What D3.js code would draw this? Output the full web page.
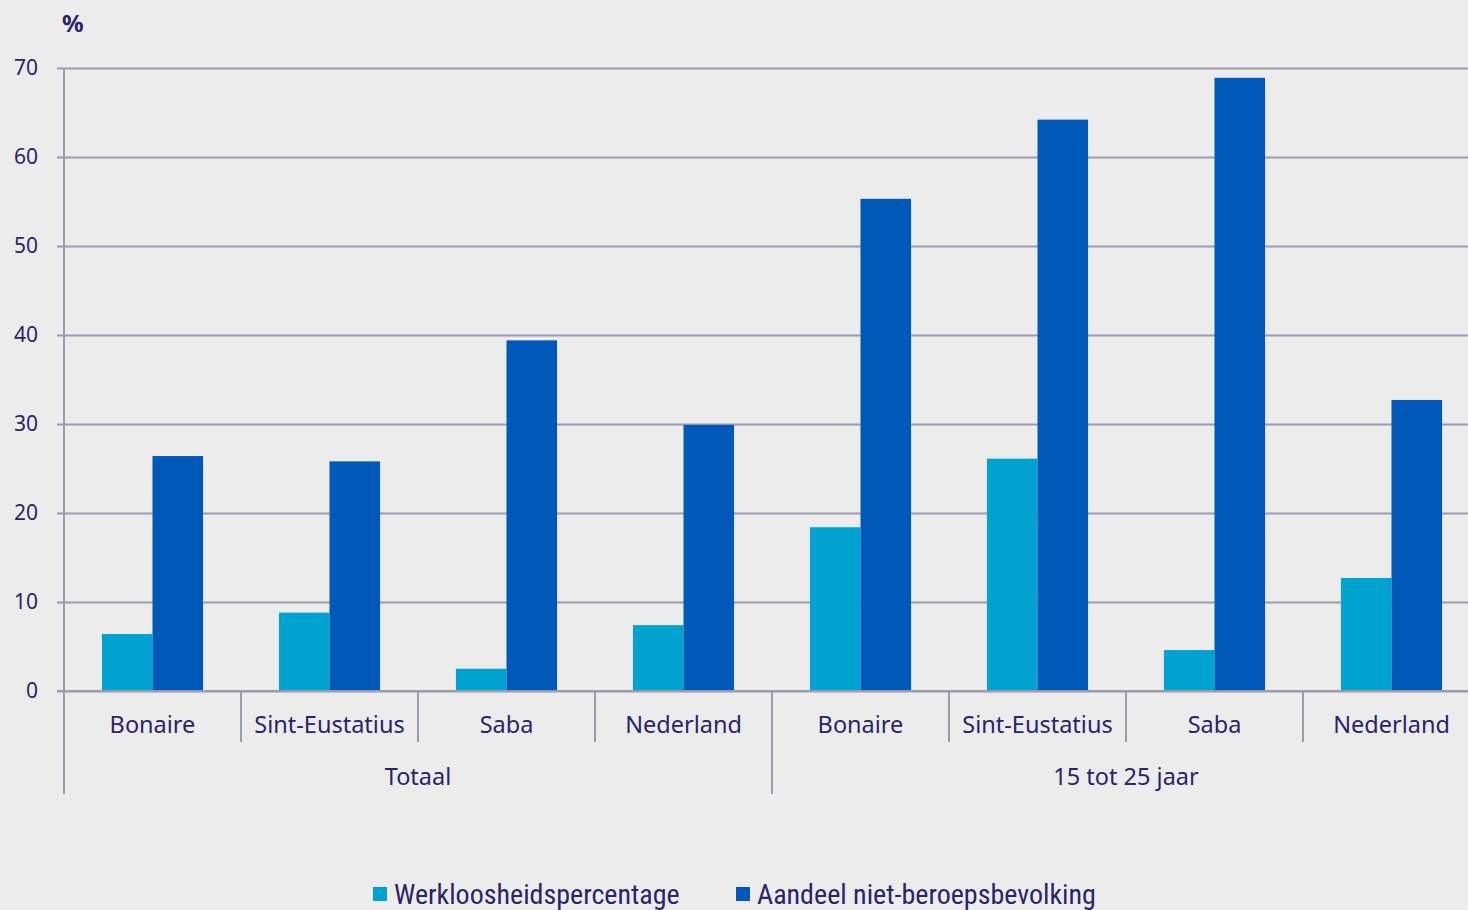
<!DOCTYPE html>
<html><head><meta charset="utf-8">
<script src="https://cdn.jsdelivr.net/npm/d3@7"></script>
<style>
html,body{margin:0;padding:0;background:#ececec;}
svg{display:block;font-family:"Noto Sans",sans-serif;}
</style></head>
<body>
<svg id="c" width="1468" height="910"></svg>
<script>
const groups = ["Totaal", "15 tot 25 jaar"];
const islands = ["Bonaire", "Sint-Eustatius", "Saba", "Nederland"];
const seriesNames = ["Werkloosheidspercentage", "Aandeel niet-beroepsbevolking"];
const werkloosheid = [6.4, 8.8, 2.5, 7.4, 18.4, 26.1, 4.6, 12.7];
const nietBeroeps = [26.4, 25.8, 39.4, 29.9, 55.3, 64.2, 68.9, 32.7];
const yTicks = [0, 10, 20, 30, 40, 50, 60, 70];
const colors = ["#00a3cf", "#0059b8"];
const textColor = "#2b2468";
const gridColor = "#9c9aae";

const cats = [];
groups.forEach(g => islands.forEach(i => cats.push(g + "|" + i)));
const data = cats.map((c, k) => ({cat: c, vals: [werkloosheid[k], nietBeroeps[k]]}));

const svg = d3.select("#c");
const mLeft = 64, mRight = 1480, mTop = 68, mBottom = 691;
const x = d3.scaleBand().domain(cats).range([mLeft, mRight]).paddingInner(0).paddingOuter(0);
const xs = d3.scaleBand().domain([0, 1]).range([0, x.bandwidth()]).paddingInner(0).paddingOuter(0.75);
const y = d3.scaleLinear().domain([0, 70]).range([mBottom, mTop]);

// gridlines + ticks
const yAxis = d3.axisLeft(y).tickValues(yTicks).tickSize(-(mRight - mLeft)).tickPadding(26);
const gy = svg.append("g").attr("transform", `translate(${mLeft},0)`).call(yAxis);
gy.select(".domain").remove();
gy.selectAll(".tick line").attr("stroke", gridColor).attr("stroke-width", 2).attr("x1", -7);
gy.selectAll(".tick text").attr("fill", textColor).attr("font-size", 21).attr("font-family", "Noto Sans").attr("dy", "0.32em");

// bars
const cg = svg.append("g").selectAll("g").data(data).join("g")
  .attr("transform", d => `translate(${x(d.cat)},0)`);
cg.selectAll("rect").data(d => d.vals.map((v, i) => ({v, i}))).join("rect")
  .attr("x", d => xs(d.i)).attr("width", xs.bandwidth())
  .attr("y", d => y(d.v)).attr("height", d => y(0) - y(d.v))
  .attr("fill", d => colors[d.i]);

// axis baseline
svg.append("line").attr("x1", mLeft - 7).attr("x2", mRight).attr("y1", mBottom).attr("y2", mBottom)
  .attr("stroke", gridColor).attr("stroke-width", 2);
// y axis line
svg.append("line").attr("x1", mLeft).attr("x2", mLeft).attr("y1", mTop).attr("y2", 794)
  .attr("stroke", gridColor).attr("stroke-width", 2);

// category separators
cats.forEach((c, k) => {
  if (k === 0) return;
  const xx = x(c);
  const isGroup = k % islands.length === 0;
  svg.append("line").attr("x1", xx).attr("x2", xx).attr("y1", mBottom).attr("y2", isGroup ? 794 : 742)
    .attr("stroke", gridColor).attr("stroke-width", 2);
});

// category labels
svg.append("g").selectAll("text").data(cats).join("text")
  .attr("x", d => x(d) + x.bandwidth() / 2).attr("y", 733)
  .attr("text-anchor", "middle").attr("fill", textColor).attr("font-size", 23.5)
  .text(d => d.split("|")[1]);

// group labels
groups.forEach((g, gi) => {
  const first = x(g + "|" + islands[0]);
  const last = x(g + "|" + islands[islands.length - 1]) + x.bandwidth();
  svg.append("text").attr("x", (first + last) / 2).attr("y", 785).attr("text-anchor", "middle")
    .attr("fill", textColor).attr("font-size", 23.5).text(g);
});

// % label
svg.append("text").attr("x", 62).attr("y", 32).attr("fill", textColor)
  .attr("font-size", 24).attr("font-weight", "bold").text("%");

// legend
const legX = [373, 736];
seriesNames.forEach((s, i) => {
  svg.append("rect").attr("x", legX[i]).attr("y", 887).attr("width", 14).attr("height", 14).attr("fill", colors[i]);
  svg.append("text").attr("x", legX[i] + 21).attr("y", 904).attr("fill", textColor)
    .attr("font-size", 28).attr("font-family", "Liberation Sans Narrow, Roboto Condensed, Noto Sans").text(s);
});
</script>
</body></html>
